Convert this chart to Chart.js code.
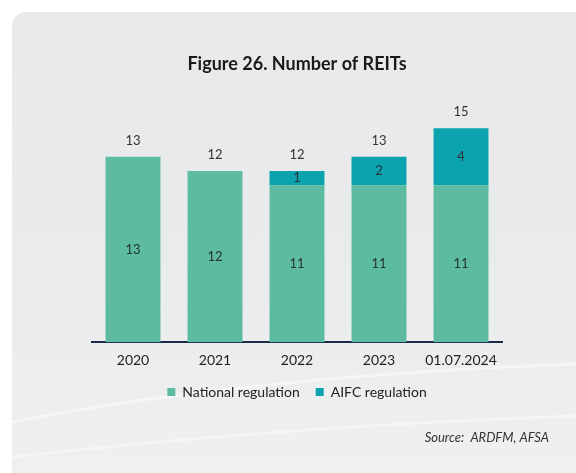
<!DOCTYPE html>
<html>
<head>
<meta charset="utf-8">
<script src="https://cdn.jsdelivr.net/npm/chart.js@4"></script>
<style>
  html, body { margin: 0; padding: 0; background: #ffffff; }
  #wrap { position: relative; width: 576px; height: 473px; overflow: hidden; }
  #panel {
    position: absolute; left: 12px; top: 12px; right: -20px; bottom: -20px;
    border-radius: 14px;
    background: linear-gradient(180deg, #e8e9eb 0%, #eaebed 55%, #eff0f2 100%);
  }
  #swoosh { position: absolute; left: 12px; top: 12px; }
  canvas { position: absolute; left: 0; top: 0; }
</style>
</head>
<body>
<div id="wrap">
  <div id="panel"></div>
  <svg id="swoosh" width="564" height="461">
    <path d="M0 410 C 150 380, 350 360, 564 352" stroke="#ffffff" stroke-opacity="0.45" stroke-width="3" fill="none"/>
    <path d="M0 445 C 180 425, 380 410, 564 404" stroke="#ffffff" stroke-opacity="0.4" stroke-width="3" fill="none"/>
  </svg>
  <canvas id="reitChart" width="576" height="473"></canvas>
</div>
<script>
var categories = ["2020", "2021", "2022", "2023", "01.07.2024"];
var nationalReg = [13, 12, 11, 11, 11];
var aifcReg = [0, 0, 1, 2, 4];

var FONT = "Lato, 'Open Sans', sans-serif";

// value labels inside segments and totals above bars
var barLabels = {
  id: "barLabels",
  afterDatasetsDraw: function (chart) {
    var ctx = chart.ctx;
    ctx.save();
    ctx.font = "13px " + FONT;
    ctx.textAlign = "center";
    ctx.textBaseline = "middle";
    ctx.fillStyle = "#27343a";
    chart.data.datasets.forEach(function (ds, i) {
      var meta = chart.getDatasetMeta(i);
      meta.data.forEach(function (bar, j) {
        if (!ds.data[j]) return;
        ctx.fillText(ds.data[j], bar.x, (bar.y + bar.base) / 2);
      });
    });
    var top = chart.getDatasetMeta(chart.data.datasets.length - 1).data;
    ctx.fillStyle = "#333333";
    top.forEach(function (bar, j) {
      var total = nationalReg[j] + aifcReg[j];
      ctx.fillText(total, bar.x, chart.scales.y.getPixelForValue(total) - 16);
    });
    ctx.font = "italic 13px " + FONT;
    ctx.textAlign = "right";
    ctx.fillStyle = "#333333";
    ctx.fillText("Source:  ARDFM, AFSA", 549, 438);
    ctx.restore();
  }
};

var ctx = document.getElementById("reitChart").getContext("2d");
var reitChart = new Chart(ctx, {
  type: "bar",
  data: {
    labels: categories,
    datasets: [
      {
        label: "National regulation",
        data: nationalReg,
        backgroundColor: "#5cbba1",
        borderWidth: 0
      },
      {
        label: "AIFC regulation",
        data: aifcReg,
        backgroundColor: "#0aa3ae",
        borderWidth: 0
      }
    ]
  },
  options: {
    responsive: false,
    animation: false,
    categoryPercentage: 1,
    barPercentage: 0.67,
    layout: { padding: { left: 92, right: 74, top: 0, bottom: 64 } },
    scales: {
      x: {
        stacked: true,
        grid: { display: false, drawTicks: false },
        border: { display: true, color: "#1c2a4a", width: 2 },
        ticks: { color: "#222222", font: { family: FONT, size: 14 }, padding: 10 },
        afterFit: function (scale) {
          scale.height -= 10;
        }
      },
      y: {
        stacked: true,
        display: false,
        min: 0,
        max: 17
      }
    },
    plugins: {
      title: {
        display: true,
        text: "Figure 26. Number of REITs",
        color: "#1a1a1a",
        font: { family: FONT, size: 18, weight: "bold" },
        padding: { top: 53, bottom: 25 }
      },
      legend: {
        position: "bottom",
        labels: {
          boxWidth: 8,
          boxHeight: 8,
          padding: 16,
          color: "#222222",
          font: { family: FONT, size: 14 }
        }
      },
      tooltip: { enabled: false }
    }
  },
  plugins: [barLabels]
});
</script>
</body>
</html>
